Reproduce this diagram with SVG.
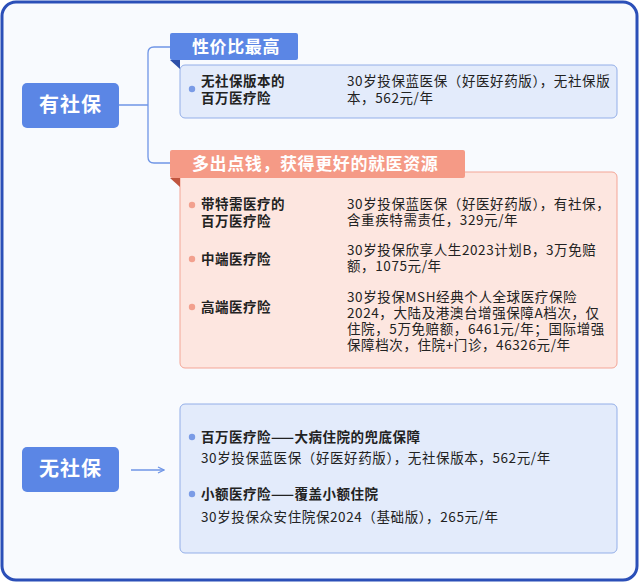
<svg xmlns="http://www.w3.org/2000/svg" width="640" height="583" viewBox="0 0 640 583">
<defs>
<marker id="ab" markerWidth="8" markerHeight="8" refX="7" refY="4" orient="auto" markerUnits="userSpaceOnUse"><path d="M1,1 L7,4 L1,7" fill="none" stroke="#6f95e6" stroke-width="1.3"/></marker>
<marker id="ar" markerWidth="8" markerHeight="8" refX="7" refY="4" orient="auto" markerUnits="userSpaceOnUse"><path d="M1,1 L7,4 L1,7" fill="none" stroke="#f2907c" stroke-width="1.3"/></marker>
</defs>
<style>
text{font-family:"Noto Sans CJK SC","Noto Sans",sans-serif;fill:#222}
.root{fill:#fff;font-size:20px;font-weight:bold;letter-spacing:1px}
.tab{fill:#fff;font-size:17px;font-weight:bold;letter-spacing:0.6px}
.b{font-size:13.500px;font-weight:bold;letter-spacing:0.5px}
.t{font-size:13.500px;letter-spacing:0.6px}
.lb{stroke:#6f95e6;stroke-width:1.3;fill:none}
.lr{stroke:#f2907c;stroke-width:1.3;fill:none}
</style>
<rect x="2" y="2" width="635" height="578" rx="14" fill="#f8fafe" stroke="#2b4fb8" stroke-width="3"/>
<g id="connectors">
<path class="lb" d="M119,105 H148 M170,47 H154 Q148,47 148,53 V157 Q148,163 154,163 H170"/>
<path class="lb" d="M298,89 H334" marker-end="url(#ab)"/>
<path class="lr" d="M298,213 H334" marker-end="url(#ar)"/>
<path class="lr" d="M298,259 H334" marker-end="url(#ar)"/>
<path class="lr" d="M298,307 H334" marker-end="url(#ar)"/>
<path class="lb" d="M131,470 H164" marker-end="url(#ab)"/>
</g>
<g id="n-yes"><rect x="22" y="83" width="97" height="45" rx="5" fill="#5b86e5"/><text class="root" x="70.500" y="112" text-anchor="middle">有社保</text></g>
<g id="n-no"><rect x="22" y="447" width="97" height="45" rx="5" fill="#5b86e5"/><text class="root" x="70.500" y="476" text-anchor="middle">无社保</text></g>
<g id="box1">
<rect x="180" y="65" width="437" height="53" rx="5" fill="#e3ebfb" stroke="#93aee8"/>
<path d="M170,60 L180,60 L180,69 Z" fill="#2d4fa8"/>
<rect x="170" y="33" width="128" height="27" rx="2" fill="#5b86e5"/>
<text class="tab" x="192" y="53">性价比最高</text>
<circle cx="192" cy="89" r="3.200" fill="#7a9be6"/>
<text class="b" x="201" y="86">无社保版本的</text><text class="b" x="201" y="103">百万医疗险</text>
<text class="t" x="347" y="86">30岁投保蓝医保（好医好药版），无社保版</text><text class="t" x="347" y="103">本，562元/年</text>
</g>
<g id="box2">
<rect x="180" y="172" width="437" height="196" rx="5" fill="#fde6e0" stroke="#f4a596"/>
<path d="M170,178 L180,178 L180,187 Z" fill="#c0553f"/>
<rect x="170" y="150" width="295" height="28" rx="2" fill="#f59a86"/>
<text class="tab" x="192" y="170">多出点钱，获得更好的就医资源</text>
<circle cx="192" cy="205" r="3.200" fill="#f2a08e"/>
<text class="b" x="201" y="209">带特需医疗的</text><text class="b" x="201" y="226">百万医疗险</text>
<text class="t" x="347" y="209">30岁投保蓝医保（好医好药版），有社保，</text><text class="t" x="347" y="225">含重疾特需责任，329元/年</text>
<circle cx="192" cy="259" r="3.200" fill="#f2a08e"/>
<text class="b" x="201" y="264">中端医疗险</text>
<text class="t" x="347" y="255">30岁投保欣享人生2023计划B，3万免赔</text><text class="t" x="347" y="271">额，1075元/年</text>
<circle cx="192" cy="307" r="3.200" fill="#f2a08e"/>
<text class="b" x="201" y="312">高端医疗险</text>
<text class="t" x="347" y="302">30岁投保MSH经典个人全球医疗保险</text>
<text class="t" x="347" y="318">2024，大陆及港澳台增强保障A档次，仅</text>
<text class="t" x="347" y="334">住院，5万免赔额，6461元/年；国际增强</text>
<text class="t" x="347" y="350">保障档次，住院+门诊，46326元/年</text>
</g>
<g id="box3">
<rect x="180" y="404" width="437" height="149" rx="5" fill="#e3ebfb" stroke="#93aee8"/>
<circle cx="192" cy="437" r="3.200" fill="#7a9be6"/>
<text class="b" x="201" y="442">百万医疗险——大病住院的兜底保障</text>
<text class="t" x="201" y="463">30岁投保蓝医保（好医好药版），无社保版本，562元/年</text>
<circle cx="192" cy="494" r="3.200" fill="#7a9be6"/>
<text class="b" x="201" y="499">小额医疗险——覆盖小额住院</text>
<text class="t" x="201" y="522">30岁投保众安住院保2024（基础版），265元/年</text>
</g>
</svg>
